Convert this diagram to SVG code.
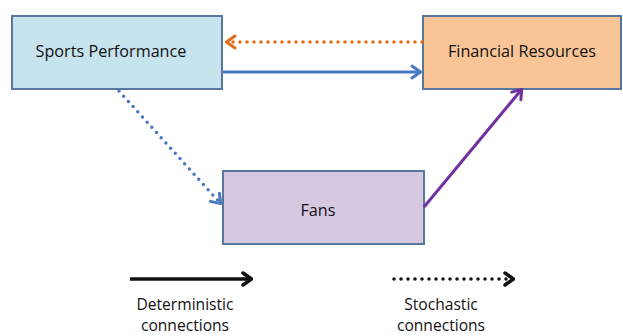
<svg xmlns="http://www.w3.org/2000/svg" width="623" height="336" viewBox="0 0 623 336">
<style>
.box{stroke:#58779f;stroke-width:2}
.lbl{font-family:"Open Sans","Liberation Sans",sans-serif;font-size:16.2px;fill:#111;text-anchor:middle}
.leg{font-family:"Open Sans","Liberation Sans",sans-serif;font-size:15.6px;fill:#111;text-anchor:middle}
.dot{stroke-dasharray:0 7;stroke-linecap:round}
</style>
<defs>
<marker id="hb" viewBox="0 0 12 16" refX="11" refY="8" markerWidth="12" markerHeight="16" markerUnits="userSpaceOnUse" orient="auto">
<polyline points="2,2 10.5,8 2,14" fill="none" stroke="#4a78c0" stroke-width="3" stroke-linecap="round" stroke-linejoin="round"/>
</marker>
<marker id="ho" viewBox="0 0 12 16" refX="11" refY="8" markerWidth="12" markerHeight="16" markerUnits="userSpaceOnUse" orient="auto">
<polyline points="2,2 10.5,8 2,14" fill="none" stroke="#e36c17" stroke-width="3" stroke-linecap="round" stroke-linejoin="round"/>
</marker>
<marker id="hp" viewBox="0 0 12 16" refX="11" refY="8" markerWidth="12" markerHeight="16" markerUnits="userSpaceOnUse" orient="auto">
<polyline points="2,2 10.5,8 2,14" fill="none" stroke="#7030a0" stroke-width="3" stroke-linecap="round" stroke-linejoin="round"/>
</marker>
<marker id="hk" viewBox="0 0 12 16" refX="11" refY="8" markerWidth="12" markerHeight="16" markerUnits="userSpaceOnUse" orient="auto">
<polyline points="2,2 10.5,8 2,14" fill="none" stroke="#111" stroke-width="3.5" stroke-linecap="round" stroke-linejoin="round"/>
</marker>
</defs>
<g id="sports-performance">
<rect class="box" x="12" y="16" width="210" height="73" fill="#c7e3ee"/>
<text class="lbl" x="111" y="57">Sports Performance</text>
</g>
<g id="financial-resources">
<rect class="box" x="423" y="16" width="198" height="73" fill="#f9c596"/>
<text class="lbl" x="522" y="57">Financial Resources</text>
</g>
<g id="fans">
<rect class="box" x="223" y="171" width="201" height="73" fill="#d7c8e2"/>
<text class="lbl" x="318" y="216">Fans</text>
</g>
<g id="connectors" fill="none">
<line x1="422" y1="42" x2="226" y2="42" stroke="#e36c17" stroke-width="3.5" class="dot" marker-end="url(#ho)"/>
<line x1="223" y1="72" x2="421" y2="72" stroke="#4a78c0" stroke-width="2.8" marker-end="url(#hb)"/>
<line x1="119" y1="91" x2="221" y2="204" stroke="#4a78c0" stroke-width="3.5" class="dot" marker-end="url(#hb)"/>
<line x1="424" y1="207" x2="522" y2="89" stroke="#7030a0" stroke-width="3" marker-end="url(#hp)"/>
</g>
<g id="legend">
<line x1="130" y1="279" x2="252" y2="279" stroke="#111" stroke-width="3.5" marker-end="url(#hk)"/>
<line x1="394" y1="279" x2="514" y2="279" stroke="#111" stroke-width="3.5" class="dot" marker-end="url(#hk)"/>
<text class="leg" x="185" y="309.5">Deterministic</text>
<text class="leg" x="185" y="331">connections</text>
<text class="leg" x="441" y="309.5">Stochastic</text>
<text class="leg" x="441" y="331">connections</text>
</g>
</svg>
